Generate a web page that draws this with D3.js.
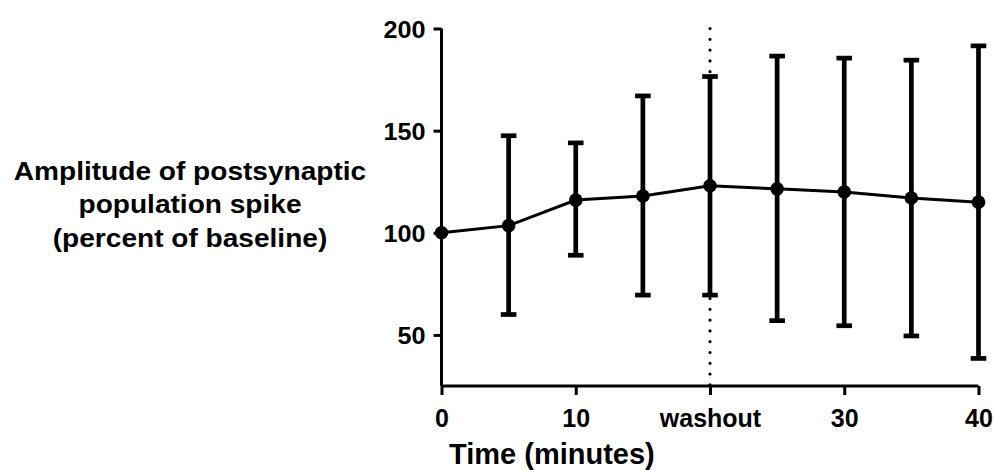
<!DOCTYPE html>
<html>
<head>
<meta charset="utf-8">
<script src="https://cdn.jsdelivr.net/npm/d3@7"></script>
<style>
  body { margin: 0; background: #fff; }
  svg text { font-family: "Liberation Sans", Arial, sans-serif; font-weight: bold; fill: #000; }
</style>
</head>
<body>
<div id="chart"></div>
<script>
const times = [0, 5, 10, 15, 20, 25, 30, 35, 40];
const means = [100, 103.5, 116, 118, 123, 121.5, 120, 117, 115];
const upper = [100, 147.5, 144, 167, 176.5, 186.5, 185.5, 184.5, 191.5];
const lower = [100, 60, 89, 69.5, 69.5, 57, 54.5, 49.5, 38.5];
const xTicks = [0, 10, 20, 30, 40];
const xTickLabels = ["0", "10", "washout", "30", "40"];
const yTicks = [50, 100, 150, 200];
const washoutTime = 20;

const width = 995, height = 470;

const svg = d3.select('#chart')
  .append('svg')
  .attr('width', width)
  .attr('height', height);

const x = d3.scaleLinear().domain([0, 40]).range([441.5, 978.5]);
const y = d3.scaleLinear().domain([25, 200]).range([386, 28.5]);

// washout marker
svg.append('line')
  .attr('x1', x(washoutTime)).attr('x2', x(washoutTime))
  .attr('y1', y(200)).attr('y2', y(25))
  .attr('stroke', '#000')
  .attr('stroke-width', 3.2)
  .attr('stroke-linecap', 'round')
  .attr('stroke-dasharray', '0 10.8');

// axes
const yAxis = svg.append('g')
  .attr('transform', `translate(${x(0)},0)`)
  .call(d3.axisLeft(y).tickValues(yTicks).tickSize(8));

const xAxis = svg.append('g')
  .attr('transform', `translate(0,${y(25)})`)
  .call(d3.axisBottom(x).tickValues(xTicks).tickSize(9).tickPadding(14)
    .tickFormat((d, i) => xTickLabels[i]));

[xAxis, yAxis].forEach(g => {
  g.select('.domain').attr('stroke', '#000').attr('stroke-width', 3);
  g.selectAll('.tick line').attr('stroke', '#000').attr('stroke-width', 3);
});
// keep axis ends square, no outer ticks
yAxis.select('.domain').attr('d', `M0,${y(200)}V${y(25)}`);
xAxis.select('.domain').attr('d', `M${x(0)},0H${x(40)}`);

// the original lettering is a little wider than Arial
yAxis.selectAll('.tick text')
  .attr('x', null)
  .attr('dy', '0.36em')
  .attr('transform', 'translate(-16,0) scale(1.05,1)')
  .style('font-size', '24px');
xAxis.selectAll('.tick text')
  .style('font-size', '25px');

// error bars
const bars = svg.append('g');
times.forEach((t, i) => {
  if (upper[i] === lower[i]) return;
  bars.append('line')
    .attr('x1', x(t)).attr('x2', x(t))
    .attr('y1', y(upper[i])).attr('y2', y(lower[i]))
    .attr('stroke', '#000').attr('stroke-width', 4.7);
  [upper[i], lower[i]].forEach(v => {
    bars.append('line')
      .attr('x1', x(t) - 7.8).attr('x2', x(t) + 7.8)
      .attr('y1', y(v)).attr('y2', y(v))
      .attr('stroke', '#000').attr('stroke-width', 4.7);
  });
});

// mean line and markers
const line = d3.line().x((d, i) => x(times[i])).y(d => y(d));
svg.append('path')
  .datum(means)
  .attr('d', line)
  .attr('fill', 'none')
  .attr('stroke', '#000')
  .attr('stroke-width', 3);

svg.append('g').selectAll('circle')
  .data(means)
  .join('circle')
  .attr('cx', (d, i) => x(times[i]))
  .attr('cy', d => y(d))
  .attr('r', 6.8)
  .attr('fill', '#000');

// axis titles
const yTitle = svg.append('g')
  .attr('transform', 'translate(190,0) scale(1.08,1)')
  .append('text')
  .attr('text-anchor', 'middle')
  .style('font-size', '26px');
['Amplitude of postsynaptic', 'population spike', '(percent of baseline)'].forEach((s, i) => {
  yTitle.append('tspan').attr('x', 0).attr('y', 180 + i * 33.5).text(s);
});

svg.append('text')
  .attr('x', 449)
  .attr('y', 464)
  .style('font-size', '29px')
  .text('Time (minutes)');
</script>
</body>
</html>
